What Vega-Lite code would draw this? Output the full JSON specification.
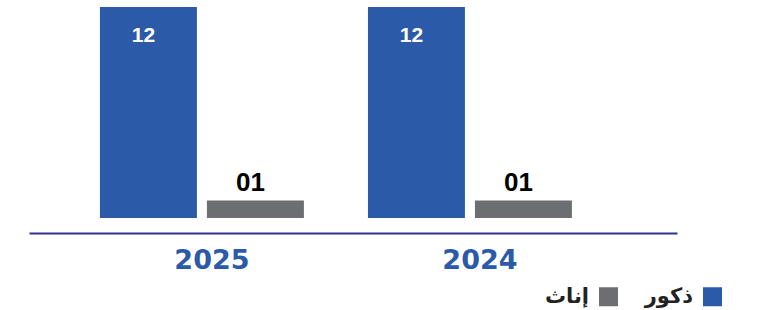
{
  "$schema": "https://vega.github.io/schema/vega-lite/v6.json",
  "autosize": "none",
  "width": 648,
  "height": 211,
  "padding": {"left": 29, "top": 7, "right": 94, "bottom": 92},
  "background": "white",
  "config": {"view": {"stroke": null}},
  "data": {
    "values": [
      {"year": "2025", "gender": "ذكور", "value": 12, "label": "12"},
      {"year": "2025", "gender": "إناث", "value": 1, "label": "01"},
      {"year": "2024", "gender": "ذكور", "value": 12, "label": "12"},
      {"year": "2024", "gender": "إناث", "value": 1, "label": "01"}
    ]
  },
  "encoding": {
    "x": {
      "field": "year", "type": "nominal", "sort": ["2025", "2024"],
      "scale": {"paddingInner": 0.239, "paddingOuter": 0.3284, "align": 0.403},
      "axis": {
        "title": null, "offset": 15, "ticks": false, "tickSize": 0,
        "domainColor": "#2E3190", "domainWidth": 2,
        "labelAngle": 0, "labelFont": "DejaVu Sans", "labelFontSize": 27,
        "labelFontWeight": "bold", "labelColor": "#2B5BA8", "labelPadding": 14,
        "labelBaseline": "top", "labelOffset": 10
      }
    },
    "xOffset": {
      "field": "gender", "type": "nominal", "sort": ["ذكور", "إناث"],
      "scale": {"paddingInner": 0.0935, "paddingOuter": 0}
    },
    "y": {
      "field": "value", "type": "quantitative",
      "scale": {"domain": [0, 12], "nice": false, "zero": true},
      "axis": null
    }
  },
  "layer": [
    {
      "mark": {"type": "bar"},
      "encoding": {
        "color": {
          "field": "gender", "type": "nominal",
          "scale": {"domain": ["إناث", "ذكور"], "range": ["#6D6E71", "#2B5BA8"]},
          "legend": {
            "title": null, "orient": "none", "direction": "horizontal",
            "legendX": 569, "legendY": 279,
            "symbolType": "square", "symbolSize": 361, "symbolStrokeWidth": 0,
            "symbolOpacity": 1,
            "labelAlign": "right", "labelOffset": -30,
            "labelFont": "DejaVu Sans", "labelFontSize": 21, "labelFontWeight": "bold",
            "labelColor": "#222222", "columnPadding": 26
          }
        }
      }
    },
    {
      "transform": [{"filter": "datum.value > 5"}],
      "mark": {"type": "text", "baseline": "alphabetic", "dy": 35, "dx": -5,
               "font": "Liberation Sans", "fontSize": 21, "fontWeight": "bold", "color": "white"},
      "encoding": {"text": {"field": "label"}}
    },
    {
      "transform": [{"filter": "datum.value <= 5"}],
      "mark": {"type": "text", "baseline": "alphabetic", "dy": -9, "dx": -5,
               "font": "Liberation Sans", "fontSize": 26, "fontWeight": "bold", "color": "black"},
      "encoding": {"text": {"field": "label"}}
    }
  ]
}
